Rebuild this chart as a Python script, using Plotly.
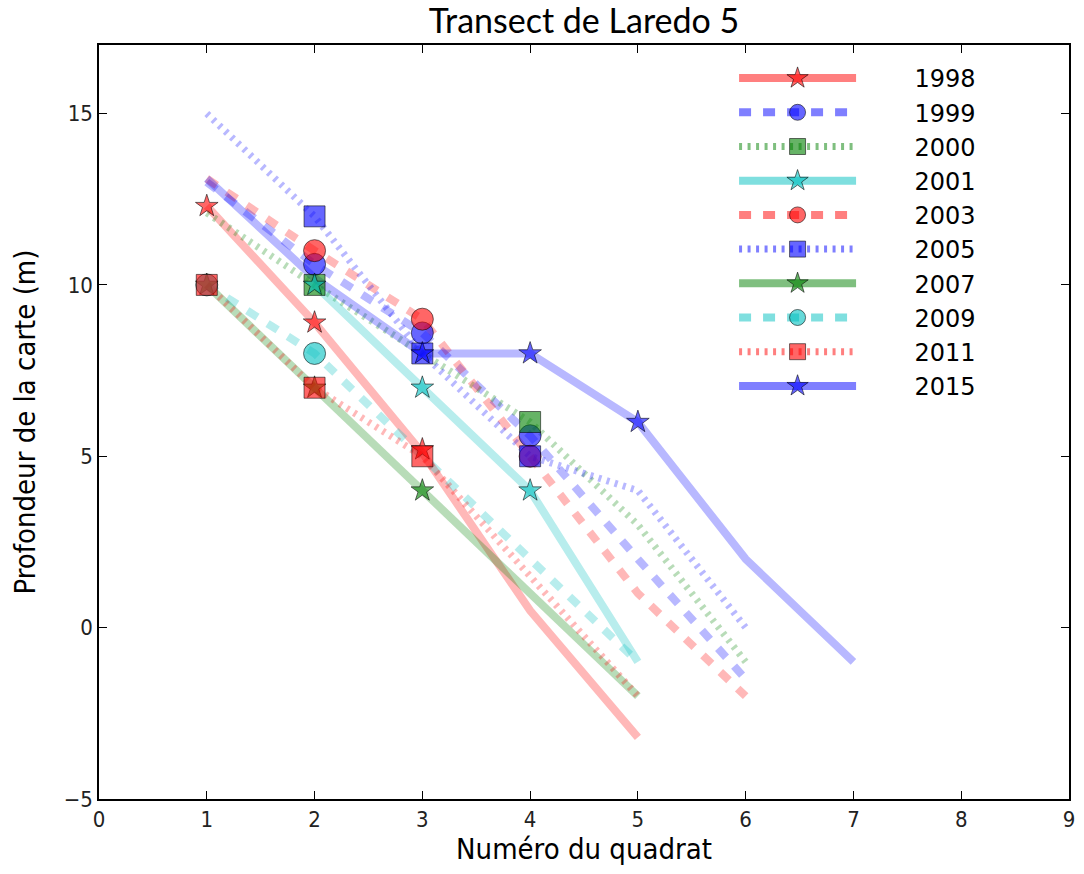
import plotly.graph_objects as go

# Survey years and their drawing styles
years = ["1998", "1999", "2000", "2001", "2003", "2005", "2007", "2009", "2011", "2015"]
colors = ["255,0,0", "0,0,255", "0,128,0", "0,191,191", "255,0,0",
          "0,0,255", "0,128,0", "0,191,191", "255,0,0", "0,0,255"]
dashes = ["solid", "dash", "dot", "solid", "dash", "dot", "solid", "dash", "dot", "solid"]
symbols = ["star", "circle", "square", "star", "circle", "square", "star", "circle", "square", "star"]

# Depth profiles (m) along the transect, per year
profile_x = {
    "1998": [1, 2, 3, 4, 5],
    "1999": [1, 2, 3, 4, 5, 6],
    "2000": [1, 2, 3, 4, 5, 6],
    "2001": [2, 3, 4, 5],
    "2003": [1, 2, 3, 4, 5, 6],
    "2005": [1, 2, 3, 4, 5, 6],
    "2007": [1, 2, 3, 4, 5],
    "2009": [1, 2, 3, 4, 5],
    "2011": [1, 2, 3, 4, 5],
    "2015": [1, 2, 3, 4, 5, 6, 7],
}
profile_y = {
    "1998": [12.3, 8.9, 5.1, 0.5, -3.2],
    "1999": [13.0, 10.6, 8.6, 5.6, 2.0, -1.5],
    "2000": [12.1, 10.0, 8.0, 6.0, 3.0, -1.0],
    "2001": [10.0, 7.0, 4.0, -1.0],
    "2003": [13.1, 11.0, 9.0, 5.0, 1.0, -2.0],
    "2005": [15.0, 12.0, 8.0, 5.0, 4.0, 0.0],
    "2007": [10.0, 7.0, 4.0, 1.0, -2.0],
    "2009": [10.0, 8.0, 5.0, 2.0, -1.0],
    "2011": [10.0, 7.0, 5.0, 1.5, -2.0],
    "2015": [13.1, 10.2, 8.0, 8.0, 6.0, 2.0, -1.0],
}

# Measured map depths per quadrat
measured_x = {
    "1998": [1, 2, 3],
    "1999": [2, 3, 4],
    "2000": [2, 4],
    "2001": [2, 3, 4],
    "2003": [2, 3, 4],
    "2005": [2, 3, 4],
    "2007": [1, 2, 3],
    "2009": [1, 2],
    "2011": [1, 2, 3],
    "2015": [3, 4, 5],
}
measured_y = {
    "1998": [12.3, 8.9, 5.2],
    "1999": [10.6, 8.6, 5.6],
    "2000": [10.0, 6.0],
    "2001": [10.0, 7.0, 4.0],
    "2003": [11.0, 9.0, 5.0],
    "2005": [12.0, 8.0, 5.0],
    "2007": [10.0, 7.0, 4.0],
    "2009": [10.0, 8.0],
    "2011": [10.0, 7.0, 5.0],
    "2015": [8.0, 8.0, 6.0],
}

dash_pattern = {"solid": "solid", "dash": "12px,12px", "dot": "3px,5.5px"}
line_width = {"solid": 8, "dash": 8, "dot": 7}
marker_size = {"star": 17, "circle": 22, "square": 21}

label_font = "DejaVu Sans Condensed, DejaVu Sans"

fig = go.Figure()

# profile lines (faint)
for yr, col, ds in zip(years, colors, dashes):
    fig.add_trace(go.Scatter(
        x=profile_x[yr], y=profile_y[yr], mode="lines",
        line=dict(color=f"rgba({col},0.28)", width=line_width[ds], dash=dash_pattern[ds]),
        showlegend=False, hoverinfo="skip",
    ))

# measured points
for yr, col, sym in zip(years, colors, symbols):
    fig.add_trace(go.Scatter(
        x=measured_x[yr], y=measured_y[yr], mode="markers",
        marker=dict(symbol=sym, size=marker_size[sym], color=f"rgba({col},0.6)",
                    line=dict(color="rgba(0,0,0,0.55)", width=1)),
        showlegend=False,
    ))

# legend entries
for yr, col, ds, sym in zip(years, colors, dashes, symbols):
    fig.add_trace(go.Scatter(
        x=[None], y=[None], mode="lines+markers", name="\u00a0" * 7 + yr,
        line=dict(color=f"rgba({col},0.5)", width=line_width[ds], dash=dash_pattern[ds]),
        marker=dict(symbol=sym, size=22, color=f"rgba({col},0.6)",
                    line=dict(color="rgba(0,0,0,0.55)", width=1)),
    ))

axis_common = dict(
    showline=True, linecolor="black", linewidth=1.5, mirror="ticks",
    ticks="inside", ticklen=8, tickwidth=1, tickcolor="black",
    showgrid=False, zeroline=False,
    tickfont=dict(family=label_font, size=22, color="#222"),
)

fig.update_layout(
    width=1084, height=874,
    margin=dict(l=99, r=9, t=45, b=75),
    plot_bgcolor="white", paper_bgcolor="white",
    title=dict(text="Transect de Laredo 5", x=0.5, xref="paper", xanchor="center",
               y=1 - 21 / 874, yref="container", yanchor="middle",
               font=dict(family="Lato, Open Sans", size=34, color="black")),
    xaxis=dict(range=[0, 9], tickvals=list(range(10)),
               title=dict(text="Numéro du quadrat", standoff=0,
                          font=dict(family=label_font, size=29, color="black")),
               **axis_common),
    yaxis=dict(range=[-5, 17], tickvals=[-5, 0, 5, 10, 15],
               title=dict(text="Profondeur de la carte (m)", standoff=20,
                          font=dict(family=label_font, size=29, color="black")),
               **axis_common),
    legend=dict(x=(738 - 99) / 976, xanchor="left", y=1 - 11 / 754, yanchor="top",
                itemwidth=117, bgcolor="rgba(0,0,0,0)", borderwidth=0,
                font=dict(family="DejaVu Sans", size=24, color="black"),
                tracegroupgap=0),
)

fig.write_html("out.html")
